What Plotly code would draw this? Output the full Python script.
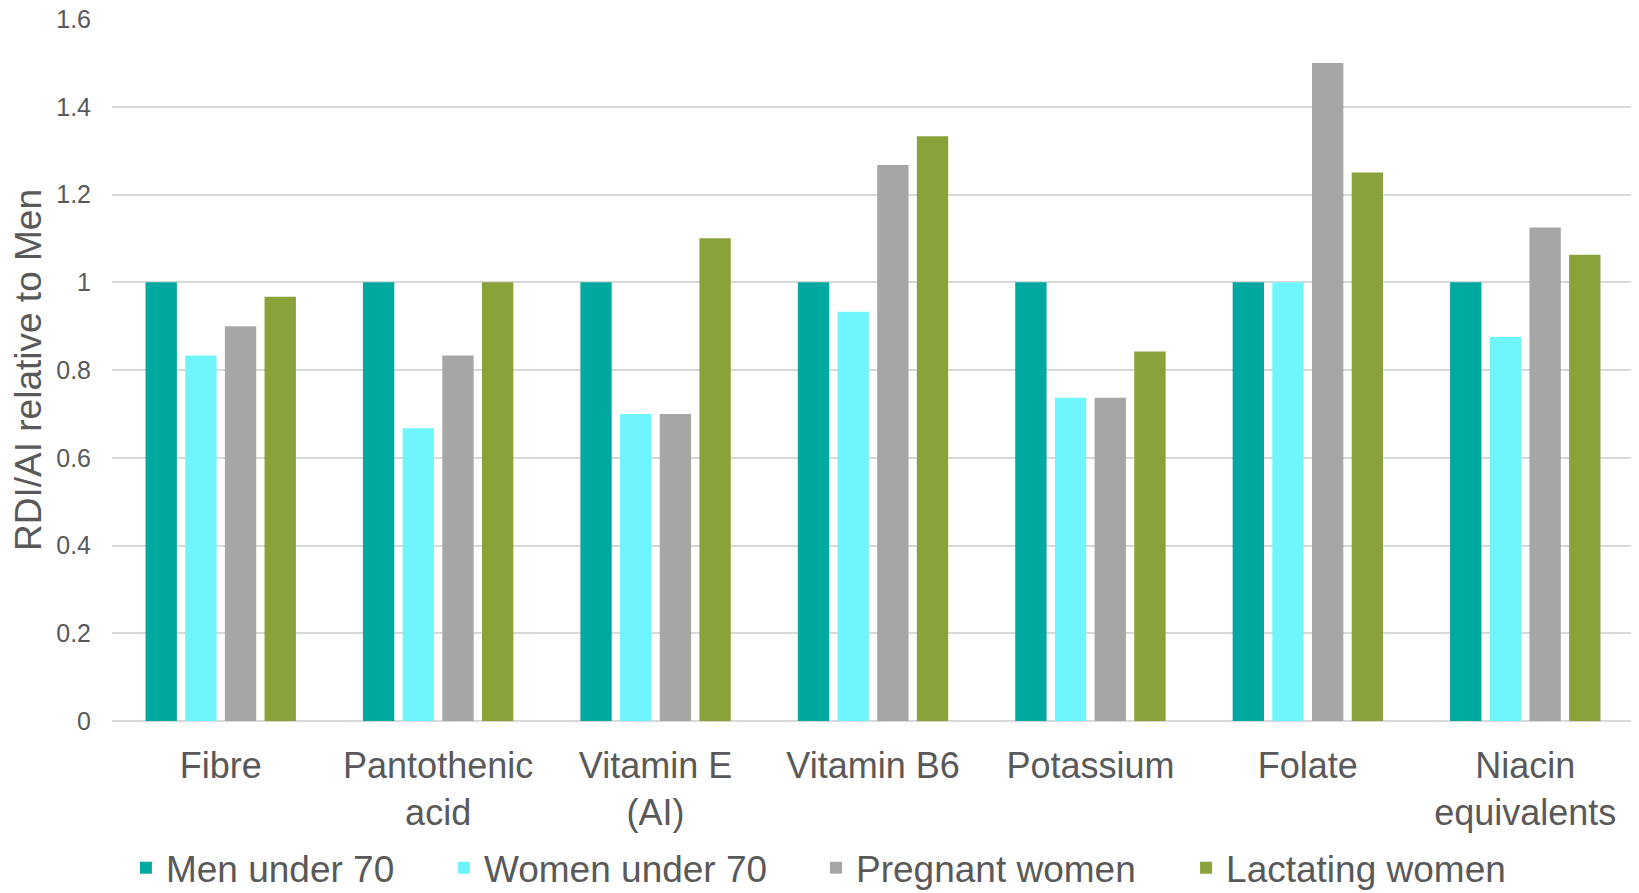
import plotly.graph_objects as go

categories = ["Fibre", "Pantothenic<br>acid", "Vitamin E<br>(AI)", "Vitamin B6",
              "Potassium", "Folate", "Niacin<br>equivalents"]
men = [1, 1, 1, 1, 1, 1, 1]
women = [0.833, 0.667, 0.7, 0.933, 0.737, 1.0, 0.875]
pregnant = [0.9, 0.833, 0.7, 1.267, 0.737, 1.5, 1.125]
lactating = [0.967, 1.0, 1.1, 1.333, 0.842, 1.25, 1.0625]

series_names = ["Men under 70", "Women under 70", "Pregnant women", "Lactating women"]
series_values = [men, women, pregnant, lactating]
series_colors = ["#00A99F", "#6EF6FC", "#A6A6A6", "#8AA23A"]
legend_ids = ["legend", "legend2", "legend3", "legend4"]
legend_x = [0.0723, 0.2673, 0.4954, 0.7223]

W, H = 1631, 885
fig = go.Figure()
for name, vals, color, lid in zip(series_names, series_values, series_colors, legend_ids):
    fig.add_trace(go.Bar(x=categories, y=vals, name=name, legend=lid, showlegend=True,
                         marker=dict(color=color, line=dict(width=0))))

font_family = "Liberation Sans, Arial, sans-serif"
legend_common = dict(orientation="h", xref="container", yref="container",
                     y=0.028, xanchor="left", yanchor="middle",
                     font=dict(size=37, color="#595959", family=font_family),
                     itemwidth=30, bgcolor="rgba(0,0,0,0)", visible=True)
layout_legends = {lid: dict(legend_common, x=lx) for lid, lx in zip(legend_ids, legend_x)}

fig.update_layout(
    width=W, height=H,
    showlegend=True,
    margin=dict(l=104, r=5, t=11, b=172),
    plot_bgcolor="white", paper_bgcolor="white",
    barmode="group", bargap=0.27, bargroupgap=0.21,
    font=dict(family=font_family, color="#595959"),
    **layout_legends,
)
fig.update_xaxes(tickfont=dict(size=36, color="#595959"), showgrid=False,
                 ticks="", showline=False, ticklabelstandoff=20, automargin=False)
fig.update_yaxes(range=[0, 1.6], dtick=0.2, tick0=0, showgrid=True,
                 gridcolor="#D9D9D9", gridwidth=2,
                 zeroline=True, zerolinecolor="#D9D9D9", zerolinewidth=2,
                 tickfont=dict(size=25, color="#595959"),
                 ticklabelstandoff=20, ticklabeloverflow="allow", automargin=False,
                 title=dict(text="RDI/AI relative to Men",
                            font=dict(size=37, color="#595959"), standoff=4))

fig.write_html("out.html")
